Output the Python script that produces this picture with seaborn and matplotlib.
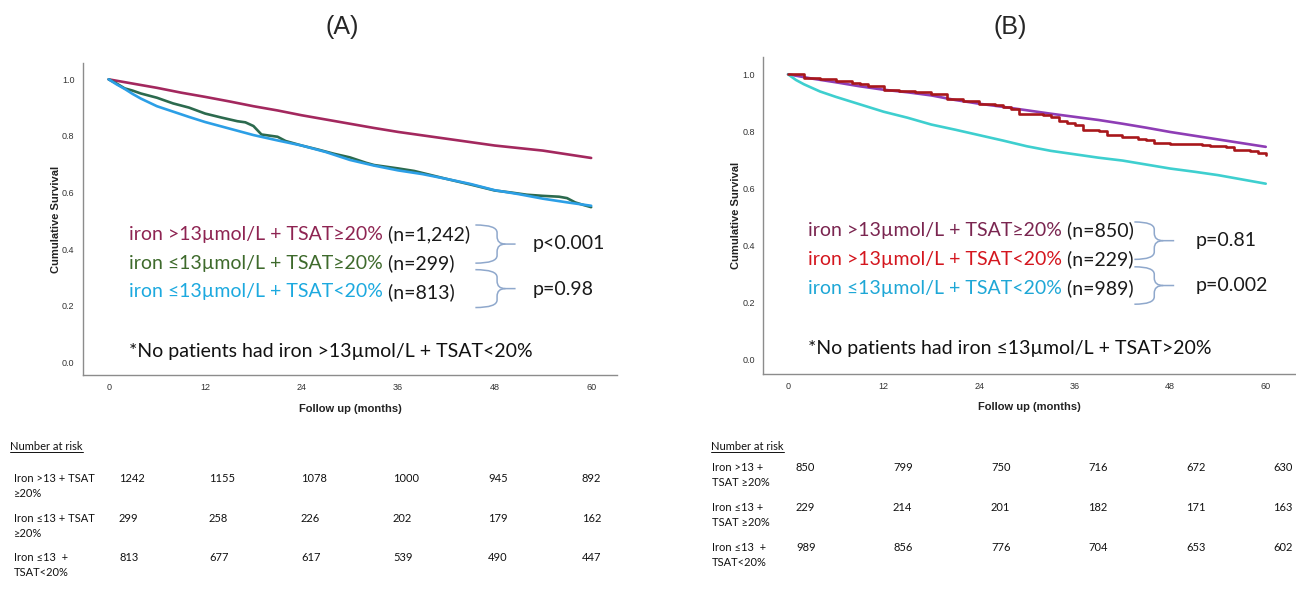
import numpy as np
import pandas as pd
import matplotlib
matplotlib.use('Agg')
import matplotlib.pyplot as plt
from matplotlib.path import Path
from matplotlib.patches import PathPatch
import seaborn as sns

sns.set_style('white')
plt.rcParams['font.family'] = ['Lato', 'DejaVu Sans']

# ---- survival curves ----
# Panel A
a_red_t = [0, 3, 6, 9, 12, 15, 18, 21, 24, 27, 30, 33, 36, 39, 42, 45, 48, 51, 54, 57, 60]
a_red_s = [1.0, 0.985, 0.97, 0.953, 0.938, 0.922, 0.905, 0.89, 0.873, 0.858, 0.843, 0.828,
           0.814, 0.802, 0.79, 0.778, 0.766, 0.757, 0.748, 0.735, 0.722]
a_green_t = [0, 1, 2, 3, 4, 6, 8, 10, 12, 14, 16, 17, 18, 19, 21, 22, 24, 26, 28, 30, 32, 33,
             36, 38, 40, 42, 45, 48, 50, 52, 54, 56, 57, 58, 59, 60]
a_green_s = [1.0, 0.985, 0.968, 0.96, 0.95, 0.935, 0.915, 0.9, 0.879, 0.865, 0.852, 0.848,
             0.835, 0.805, 0.797, 0.782, 0.766, 0.752, 0.737, 0.724, 0.705, 0.697, 0.685,
             0.676, 0.662, 0.648, 0.628, 0.607, 0.6, 0.592, 0.588, 0.585, 0.58, 0.565,
             0.556, 0.548]
a_blue_t = [0, 1, 2, 3, 4, 6, 8, 10, 12, 15, 18, 21, 24, 27, 30, 33, 36, 39, 42, 45, 48, 51,
            54, 57, 60]
a_blue_s = [1.0, 0.982, 0.966, 0.948, 0.932, 0.905, 0.886, 0.867, 0.849, 0.826, 0.803, 0.784,
            0.766, 0.743, 0.715, 0.695, 0.678, 0.665, 0.648, 0.63, 0.608, 0.594, 0.578,
            0.565, 0.553]

# Panel B
b_purple_t = [0, 3, 6, 9, 12, 15, 18, 21, 24, 27, 30, 33, 36, 39, 42, 45, 48, 51, 54, 57, 60]
b_purple_s = [1.0, 0.985, 0.972, 0.958, 0.946, 0.937, 0.926, 0.91, 0.897, 0.886, 0.874,
              0.862, 0.851, 0.84, 0.827, 0.813, 0.798, 0.785, 0.772, 0.759, 0.746]
b_red_t = [0, 2, 4, 6, 8, 9, 10, 12, 14, 16, 18, 19, 20, 22, 24, 26, 27, 28, 29, 32, 33, 34,
           35, 36, 37, 39, 40, 42, 44, 45, 46, 48, 52, 53, 55, 56, 58, 59, 60]
b_red_s = [1.0, 0.988, 0.985, 0.975, 0.97, 0.966, 0.958, 0.946, 0.942, 0.938, 0.932, 0.93,
           0.912, 0.905, 0.897, 0.893, 0.885, 0.88, 0.862, 0.857, 0.85, 0.838, 0.83, 0.822,
           0.806, 0.803, 0.788, 0.779, 0.772, 0.77, 0.76, 0.756, 0.754, 0.748, 0.746, 0.735,
           0.73, 0.724, 0.716]
b_cyan_t = [0, 1, 2, 4, 6, 9, 12, 15, 18, 21, 24, 27, 30, 33, 36, 39, 42, 45, 48, 51, 54, 57, 60]
b_cyan_s = [1.0, 0.98, 0.965, 0.94, 0.921, 0.895, 0.869, 0.848, 0.824, 0.806, 0.787, 0.768,
            0.748, 0.732, 0.72, 0.708, 0.698, 0.684, 0.67, 0.659, 0.647, 0.632, 0.617]

# ---- labels ----
a_groups = ['iron >13µmol/L + TSAT≥20%', 'iron ≤13µmol/L + TSAT≥20%', 'iron ≤13µmol/L + TSAT<20%']
a_counts = ['(n=1,242)', '(n=299)', '(n=813)']
a_pvals = ['p<0.001', 'p=0.98']
a_note = '*No patients had iron >13µmol/L + TSAT<20%'
b_groups = ['iron >13µmol/L + TSAT≥20%', 'iron >13µmol/L + TSAT<20%', 'iron ≤13µmol/L + TSAT<20%']
b_counts = ['(n=850)', '(n=229)', '(n=989)']
b_pvals = ['p=0.81', 'p=0.002']
b_note = '*No patients had iron ≤13µmol/L + TSAT>20%'

# ---- number at risk ----
risk_months = [0, 12, 24, 36, 48, 60]
a_risk_labels = ['Iron >13 + TSAT\n≥20%', 'Iron ≤13 + TSAT\n≥20%', 'Iron ≤13  +\nTSAT<20%']
a_risk = [[1242, 1155, 1078, 1000, 945, 892],
          [299, 258, 226, 202, 179, 162],
          [813, 677, 617, 539, 490, 447]]
b_risk_labels = ['Iron >13 +\nTSAT ≥20%', 'Iron ≤13 +\nTSAT ≥20%', 'Iron ≤13  +\nTSAT<20%']
b_risk = [[850, 799, 750, 716, 672, 630],
          [229, 214, 201, 182, 171, 163],
          [989, 856, 776, 704, 653, 602]]

a_line_colors = ['#A3285E', '#2C6A4E', '#2C9FE6']
a_text_colors = ['#8E2452', '#3E6A2C', '#1CA9DF']
b_line_colors = ['#8E3DB5', '#A8171B', '#3ECFCF']
b_text_colors = ['#7A2550', '#D4161E', '#1EA7D6']
brace_color = '#8FA8CC'
legend_size = 14


def make_df(curves, names):
    frames = []
    for (t, s), name in zip(curves, names):
        frames.append(pd.DataFrame({'month': t, 'survival': s, 'group': name}))
    return pd.concat(frames, ignore_index=True)


def draw_brace(ax, x0, x1, xtip, ytop, ybot):
    # curly brace "}" opening to the left, pointing right at the middle
    ymid = (ytop + ybot) / 2
    r = (ytop - ybot) * 0.2
    xs = x1 + (xtip - x1) * 0.45
    top = Path([(x0, ytop), (x1, ytop), (x1, ytop - r), (x1, ymid + r),
                (x1, ymid), (xs, ymid), (xtip, ymid)],
               [Path.MOVETO, Path.CURVE3, Path.CURVE3, Path.LINETO,
                Path.CURVE3, Path.CURVE3, Path.LINETO])
    bot = Path([(xs, ymid), (x1, ymid), (x1, ymid - r), (x1, ybot + r),
                (x1, ybot), (x0, ybot)],
               [Path.MOVETO, Path.CURVE3, Path.CURVE3, Path.LINETO,
                Path.CURVE3, Path.CURVE3])
    for p in (top, bot):
        ax.add_patch(PathPatch(p, fill=False, edgecolor=brace_color, lw=1.1))


def style_axes(ax, xlim, ylim):
    ax.set_xlim(*xlim)
    ax.set_ylim(*ylim)
    ax.set_xticks(risk_months)
    ax.set_yticks([0.0, 0.2, 0.4, 0.6, 0.8, 1.0])
    ax.set_yticklabels(['0.0', '0.2', '0.4', '0.6', '0.8', '1.0'])
    ax.tick_params(length=0, labelsize=6.5, colors='#333333', pad=6)
    for lab in ax.get_xticklabels() + ax.get_yticklabels():
        lab.set_family('Liberation Sans')
    sns.despine(ax=ax)
    for sp in ['left', 'bottom']:
        ax.spines[sp].set_color('#8c8c8c')
        ax.spines[sp].set_linewidth(1.0)
    ax.set_xlabel('Follow up (months)', fontsize=8, family='Liberation Sans',
                  weight='bold', color='#222222', labelpad=8)
    ax.set_ylabel('Cumulative Survival', fontsize=8, family='Liberation Sans',
                  weight='bold', color='#222222', labelpad=1)


def add_legend_text(ax, groups, counts, colors, ys, x0):
    for g, c, col, y in zip(groups, counts, colors, ys):
        t = ax.text(x0, y, g, color=col, fontsize=legend_size, va='center', ha='left')
        ax.annotate(' ' + c, xycoords=t, xy=(1, 0.5), va='center', ha='left',
                    fontsize=legend_size, color='#1a1a1a')


fig = plt.figure(figsize=(12.96, 6.08), dpi=100)
ax_a = fig.add_axes([0.064, 0.383, 0.412, 0.513])
ax_b = fig.add_axes([0.589, 0.385, 0.411, 0.521])

# ---- panel A ----
df_a = make_df([(a_red_t, a_red_s), (a_green_t, a_green_s), (a_blue_t, a_blue_s)], a_groups)
sns.lineplot(data=df_a, x='month', y='survival', hue='group', hue_order=a_groups,
             palette=a_line_colors, estimator=None, sort=False, legend=False,
             linewidth=1.9, ax=ax_a)
style_axes(ax_a, (-3.2, 63.2), (-0.046, 1.057))
add_legend_text(ax_a, a_groups, a_counts, a_text_colors, [0.451, 0.35, 0.249], 2.5)
draw_brace(ax_a, 45.6, 48.3, 50.6, 0.485, 0.35)
draw_brace(ax_a, 45.6, 48.3, 50.6, 0.327, 0.193)
ax_a.text(52.7, 0.418, a_pvals[0], fontsize=14, va='center', color='#1a1a1a')
ax_a.text(52.7, 0.258, a_pvals[1], fontsize=14, va='center', color='#1a1a1a')
ax_a.text(2.5, 0.036, a_note, fontsize=legend_size, va='center', color='#111111')

# ---- panel B ----
df_b = make_df([(b_purple_t, b_purple_s), (b_cyan_t, b_cyan_s)], [b_groups[0], b_groups[2]])
sns.lineplot(data=df_b, x='month', y='survival', hue='group',
             hue_order=[b_groups[0], b_groups[2]],
             palette=[b_line_colors[0], b_line_colors[2]], estimator=None, sort=False,
             legend=False, linewidth=1.9, ax=ax_b)
df_b_red = make_df([(b_red_t, b_red_s)], [b_groups[1]])
sns.lineplot(data=df_b_red, x='month', y='survival', color=b_line_colors[1],
             estimator=None, sort=False, legend=False, linewidth=1.9,
             drawstyle='steps-post', ax=ax_b)
style_axes(ax_b, (-3.1, 63.8), (-0.049, 1.06))
add_legend_text(ax_b, b_groups, b_counts, b_text_colors, [0.454, 0.352, 0.25], 2.5)
draw_brace(ax_b, 43.5, 46.0, 48.5, 0.483, 0.352)
draw_brace(ax_b, 43.5, 46.0, 48.5, 0.326, 0.195)
ax_b.text(51.2, 0.419, b_pvals[0], fontsize=14, va='center', color='#1a1a1a')
ax_b.text(51.2, 0.262, b_pvals[1], fontsize=14, va='center', color='#1a1a1a')
ax_b.text(2.5, 0.04, b_note, fontsize=legend_size, va='center', color='#111111')

# ---- titles ----
fig.text(342 / 1296, 1 - 27 / 608, '(A)', fontsize=18, ha='center', va='center',
         family='Liberation Sans')
fig.text(1010 / 1296, 1 - 27 / 608, '(B)', fontsize=18, ha='center', va='center',
         family='Liberation Sans')


# ---- number at risk tables ----
def risk_table(title_xy, label_x, value_xs, row_ys, labels, rows):
    t = fig.text(title_xy[0] / 1296, 1 - title_xy[1] / 608, 'Number at risk', fontsize=8,
                 va='center', ha='left', color='#111111')
    fig.canvas.draw()
    bb = t.get_window_extent()
    fig.add_artist(plt.Line2D([bb.x0 / 1296, bb.x1 / 1296],
                              [bb.y0 / 608 + 0.001, bb.y0 / 608 + 0.001],
                              color='#111111', lw=0.7))
    for lab, vals, y in zip(labels, rows, row_ys):
        fig.text(label_x / 1296, 1 - y / 608, lab, fontsize=8, va='top', ha='left',
                 color='#111111', linespacing=1.45)
        for v, x in zip(vals, value_xs):
            fig.text(x / 1296, 1 - y / 608, str(v), fontsize=8, va='top', ha='left',
                     color='#111111')


risk_table((10, 447), 14, [119, 209, 301, 393, 488, 582], [473, 513, 552],
           a_risk_labels, a_risk)
risk_table((711, 447), 712, [796, 893, 991, 1088, 1186, 1273], [462, 502, 542],
           b_risk_labels, b_risk)

fig.savefig('out.png', dpi=100)
